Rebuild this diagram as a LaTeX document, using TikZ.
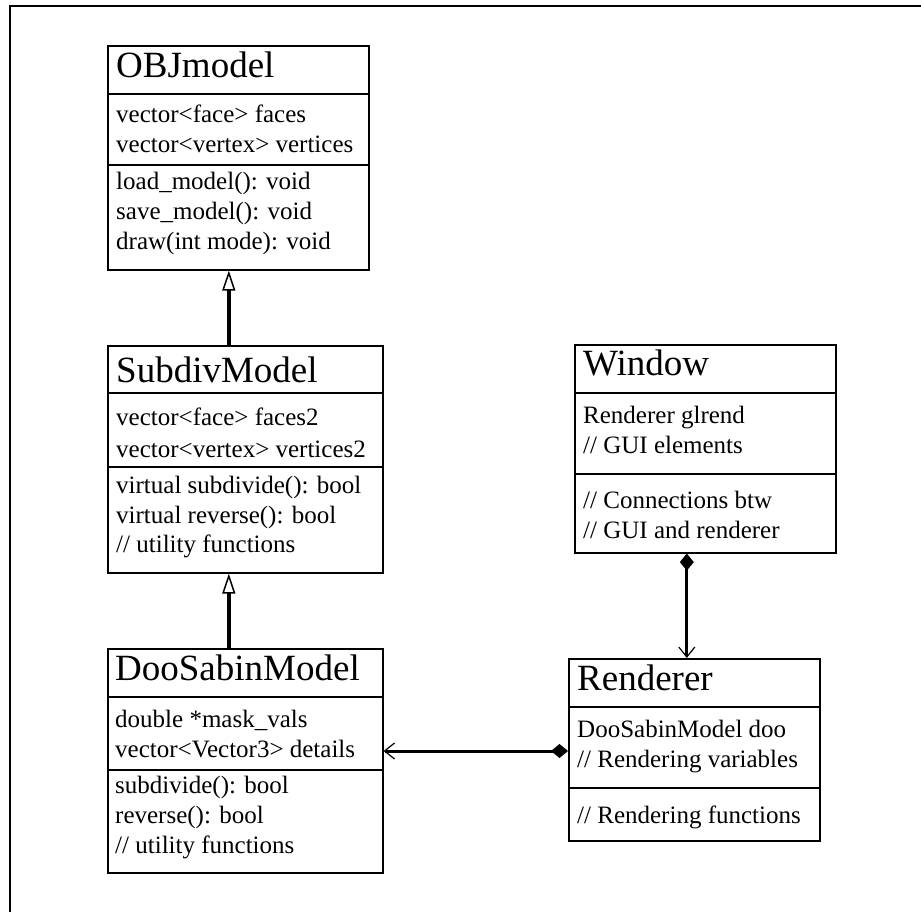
\documentclass[tikz,border=0pt]{standalone}
\usepackage{fontspec}
\setmainfont{Liberation Serif}
\usetikzlibrary{arrows.meta}

\begin{document}
\begin{tikzpicture}[x=1pt,y=-1pt,
  frame/.style={line width=2.5pt},
  classbox/.style={draw, line width=1.6pt, inner sep=0pt, anchor=north west},
  classsep/.style={line width=1.6pt},
  title/.style={anchor=base west, inner sep=0pt, font=\fontsize{37}{40}\selectfont},
  member/.style={anchor=base west, inner sep=0pt, font=\fontsize{25}{28}\selectfont},
  inherit/.style={line width=4.5pt,
    -{Triangle[open, length=20pt, width=13pt, line width=1.5pt, fill=white]}},
  compose/.style={line width=3pt,
    {Diamond[length=17pt, width=14pt]}-{Straight Barb[length=10pt, width=16pt, line width=1.2pt]}},
]
\useasboundingbox (0,0) rectangle (921,912);

% page frame (left and top edges)
\draw[frame] (10,912) -- (10,6) -- (921,6);

% ---- OBJmodel ----
\node[classbox, minimum width=261pt, minimum height=224pt] (obj) at (107,45) {};
\draw[classsep] (obj.west |- 0,94) -- (obj.east |- 0,94);
\draw[classsep] (obj.west |- 0,165) -- (obj.east |- 0,165);
\node[title]  (obj-t)  at (116,78)  {OBJmodel};
\node[member] (obj-a1) at (116,123) {vector<face> faces};
\node[member] (obj-a2) at (116,153) {vector<vertex> vertices};
\node[member] (obj-m1) at (116,190) {load\_model(): void};
\node[member] (obj-m2) at (116,220) {save\_model(): void};
\node[member] (obj-m3) at (116,250) {draw(int mode): void};

% ---- SubdivModel ----
\node[classbox, minimum width=275pt, minimum height=227pt] (subdiv) at (107,345) {};
\draw[classsep] (subdiv.west |- 0,393) -- (subdiv.east |- 0,393);
\draw[classsep] (subdiv.west |- 0,467) -- (subdiv.east |- 0,467);
\node[title]  (subdiv-t)  at (116,382) {SubdivModel};
\node[member] (subdiv-a1) at (116,425) {vector<face> faces2};
\node[member] (subdiv-a2) at (116,457) {vector<vertex> vertices2};
\node[member] (subdiv-m1) at (116,493) {virtual subdivide(): bool};
\node[member] (subdiv-m2) at (116,523) {virtual reverse(): bool};
\node[member] (subdiv-m3) at (116,552) {// utility functions};

% ---- DooSabinModel ----
\node[classbox, minimum width=275pt, minimum height=224pt] (doo) at (107,648) {};
\draw[classsep] (doo.west |- 0,697) -- (doo.east |- 0,697);
\draw[classsep] (doo.west |- 0,770) -- (doo.east |- 0,770);
\node[title]  (doo-t)  at (115,680) {DooSabinModel};
\node[member] (doo-a1) at (115,727) {double *mask\_vals};
\node[member] (doo-a2) at (115,757) {vector<Vector3> details};
\node[member] (doo-m1) at (115,793) {subdivide(): bool};
\node[member] (doo-m2) at (115,823) {reverse(): bool};
\node[member] (doo-m3) at (115,853) {// utility functions};

% ---- Window ----
\node[classbox, minimum width=261pt, minimum height=208pt] (window) at (574,344) {};
\draw[classsep] (window.west |- 0,393) -- (window.east |- 0,393);
\draw[classsep] (window.west |- 0,474) -- (window.east |- 0,474);
\node[title]  (window-t)  at (583,375) {Window};
\node[member] (window-a1) at (583,423) {Renderer glrend};
\node[member] (window-a2) at (583,453) {// GUI elements};
\node[member] (window-m1) at (583,508) {// Connections btw};
\node[member] (window-m2) at (583,538) {// GUI and renderer};

% ---- Renderer ----
\node[classbox, minimum width=251pt, minimum height=182pt] (renderer) at (568,658) {};
\draw[classsep] (renderer.west |- 0,707) -- (renderer.east |- 0,707);
\draw[classsep] (renderer.west |- 0,788) -- (renderer.east |- 0,788);
\node[title]  (renderer-t)  at (577,690) {Renderer};
\node[member] (renderer-a1) at (577,737) {DooSabinModel doo};
\node[member] (renderer-a2) at (577,767) {// Rendering variables};
\node[member] (renderer-m1) at (577,823) {// Rendering functions};

% ---- generalisations ----
\coordinate (subdiv-up) at ([xshift=-16.5pt]subdiv.north);
\draw[inherit] (subdiv-up) -- (subdiv-up |- obj.south);
\coordinate (doo-up) at ([xshift=-16.5pt]doo.north);
\draw[inherit] (doo-up) -- (doo-up |- subdiv.south);

% ---- compositions ----
\coordinate (window-down) at ([xshift=-18.5pt]window.south);
\draw[compose] (window-down) -- (window-down |- renderer.north);
\coordinate (renderer-left) at (renderer.west |- 0,751);
\draw[compose] (renderer-left) -- (renderer-left -| doo.east);

\end{tikzpicture}
\end{document}
